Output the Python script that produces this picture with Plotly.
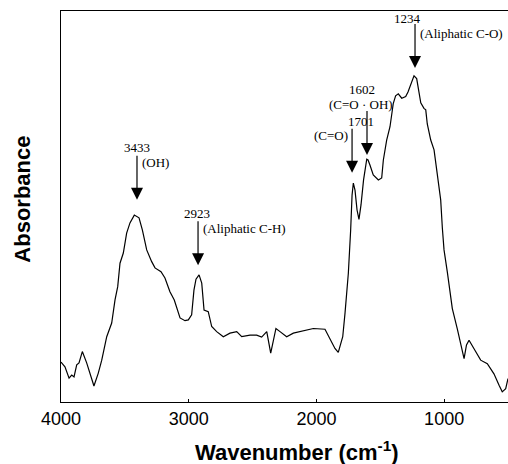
import plotly.graph_objects as go

# FT-IR spectrum (wavenumber, cm-1) and absorbance (arbitrary units)
wavenumber = [4000, 3969, 3937, 3916, 3898, 3877, 3859, 3833, 3799, 3773, 3742, 3708, 3681,
              3642, 3603, 3577, 3556, 3538, 3512, 3486, 3460, 3426, 3389, 3363, 3329, 3290,
              3264, 3217, 3186, 3147, 3113, 3068, 3029, 3003, 2977, 2959, 2943, 2919, 2898,
              2880, 2847, 2820, 2781, 2729, 2677, 2624, 2585, 2520, 2468, 2429, 2389, 2358,
              2317, 2285, 2233, 2181, 2103, 2024, 1933, 1894, 1855, 1829, 1794, 1776, 1750,
              1732, 1721, 1711, 1698, 1682, 1667, 1651, 1631, 1606, 1596, 1581, 1555, 1515,
              1489, 1476, 1450, 1424, 1398, 1380, 1359, 1332, 1301, 1283, 1262, 1236, 1215,
              1201, 1183, 1158, 1144, 1132, 1105, 1079, 1053, 1027, 1014, 1001, 975, 936,
              897, 868, 844, 825, 805, 766, 714, 662, 610, 570, 545, 518, 500]
absorbance = [0.102, 0.090, 0.061, 0.069, 0.064, 0.095, 0.100, 0.129, 0.100, 0.074, 0.041, 0.074, 0.107,
              0.167, 0.202, 0.261, 0.295, 0.355, 0.381, 0.432, 0.458, 0.478, 0.471, 0.440, 0.389, 0.359,
              0.343, 0.333, 0.317, 0.282, 0.261, 0.215, 0.208, 0.210, 0.223, 0.286, 0.314, 0.325, 0.304,
              0.235, 0.231, 0.193, 0.180, 0.167, 0.176, 0.180, 0.167, 0.171, 0.171, 0.166, 0.180, 0.125,
              0.188, 0.180, 0.167, 0.176, 0.182, 0.188, 0.186, 0.163, 0.137, 0.127, 0.167, 0.228, 0.330,
              0.440, 0.529, 0.560, 0.542, 0.491, 0.467, 0.504, 0.568, 0.621, 0.619, 0.606, 0.581, 0.568,
              0.573, 0.619, 0.670, 0.704, 0.764, 0.783, 0.788, 0.777, 0.781, 0.793, 0.813, 0.834, 0.827,
              0.803, 0.765, 0.751, 0.747, 0.711, 0.670, 0.645, 0.585, 0.517, 0.445, 0.389, 0.332, 0.239,
              0.187, 0.146, 0.111, 0.146, 0.158, 0.136, 0.107, 0.098, 0.072, 0.043, 0.026, 0.034, 0.060]

tick_vals = [4000, 3000, 2000, 1000]
tick_text = ["4000", "3000", "2000", "1000"]

# Peak annotations: arrow position (wavenumber, absorbance at arrow tip), labels
peak_x = [3405, 2927, 1721, 1604, 1228]
peak_tip = [0.517, 0.350, 0.586, 0.632, 0.854]
peak_num = ["3433", "2923", "1701", "1602", "1234"]
peak_lab = ["(OH)", "(Aliphatic C-H)", "(C=O)", "(C=O \u00b7 OH)", "(Aliphatic C-O)"]

Y_MIN, Y_MAX = 0.0, 1.0
PLOT_H = 464 - 11 - 62
shaft_len = 44 * (Y_MAX - Y_MIN) / PLOT_H

fig = go.Figure()
fig.add_trace(go.Scatter(x=wavenumber, y=absorbance, mode="lines",
                         line=dict(color="black", width=1.2), hoverinfo="skip"))

# arrow shafts
sx, sy = [], []
for xv, tv in zip(peak_x, peak_tip):
    sx += [xv, xv, None]
    sy += [tv + shaft_len, tv + 0.01, None]
fig.add_trace(go.Scatter(x=sx, y=sy, mode="lines", line=dict(color="black", width=1.2),
                         hoverinfo="skip"))
# arrow heads (tip located at the data point)
fig.add_trace(go.Scatter(x=peak_x, y=peak_tip, mode="markers", hoverinfo="skip",
                         marker=dict(symbol="arrow-down", size=12, color="black",
                                     line=dict(width=0))))

serif = dict(family="Liberation Serif, Times New Roman, serif", size=13, color="black")
ann = []
num_dx = [0, -1, 9, -5, -8]
num_dy = [-52, -52, -51, -65, -50]
lab_dx = [3, 3, -2, -6, 3]
lab_dy = [-37, -37, -37, -50, -35]
lab_anchor = ["left", "left", "right", "center", "left"]
for i in range(len(peak_x)):
    ann.append(dict(x=peak_x[i], y=peak_tip[i], xref="x", yref="y", text=peak_num[i],
                    showarrow=False, xanchor="center", yanchor="middle",
                    xshift=num_dx[i], yshift=-num_dy[i], font=serif))
    ann.append(dict(x=peak_x[i], y=peak_tip[i], xref="x", yref="y", text=peak_lab[i],
                    showarrow=False, xanchor=lab_anchor[i], yanchor="middle",
                    xshift=lab_dx[i], yshift=-lab_dy[i], font=serif))

# axis titles
bold = dict(family="Liberation Sans, Arial, sans-serif", size=22, color="black")
ann.append(dict(x=0.527, y=-0.125, xref="paper", yref="paper", showarrow=False,
                text="<b>Wavenumber (cm<sup>-1</sup>)</b>", xanchor="center", yanchor="middle",
                font=bold))
ann.append(dict(x=-0.086, y=0.519, xref="paper", yref="paper", showarrow=False,
                text="<b>Absorbance</b>", textangle=-90, xanchor="center", yanchor="middle",
                font=bold))

fig.update_layout(
    width=508, height=464,
    margin=dict(l=61, r=0, t=11, b=62),
    paper_bgcolor="white", plot_bgcolor="white",
    showlegend=False,
    annotations=ann,
    xaxis=dict(range=[4000, 500], tickvals=tick_vals, ticktext=tick_text,
               showgrid=False, zeroline=False, showline=True, linecolor="black",
               linewidth=1.2, mirror=True, ticks="inside", ticklen=3, tickcolor="black",
               tickfont=dict(family="Liberation Sans, Arial, sans-serif", size=18, color="black")),
    yaxis=dict(range=[Y_MIN, Y_MAX], showticklabels=False, showgrid=False, zeroline=False,
               showline=True, linecolor="black", linewidth=1.2, ticks=""),
)

fig.write_html("out.html")
